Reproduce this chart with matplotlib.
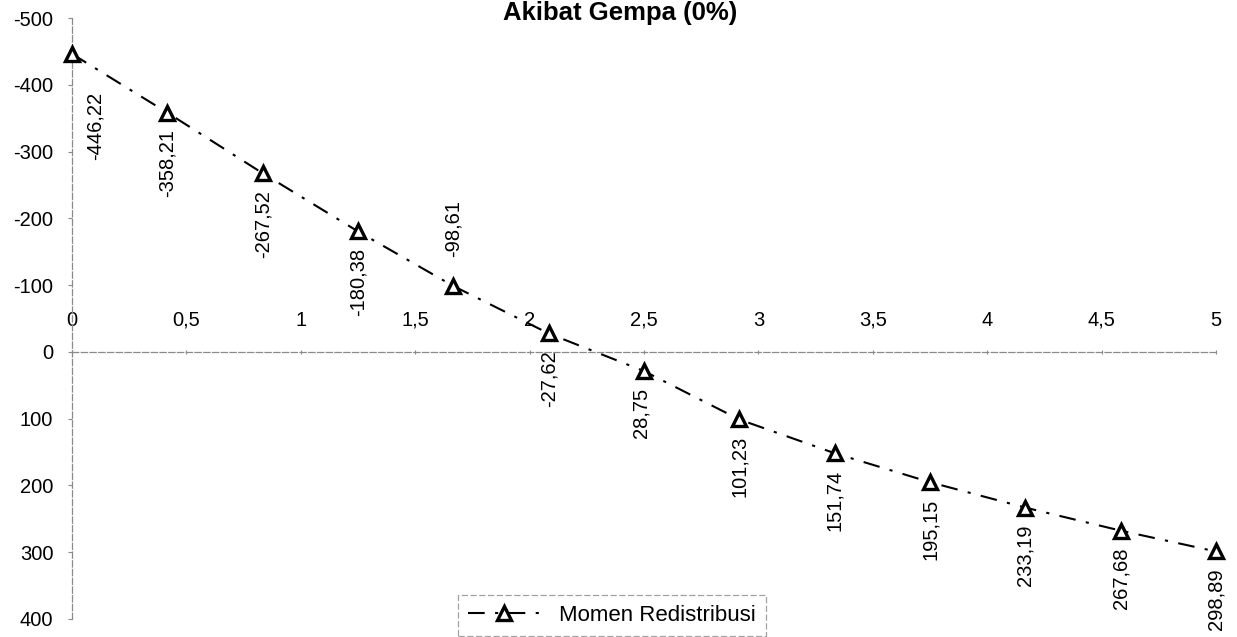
import numpy as np
import matplotlib
matplotlib.use("Agg")
import matplotlib.pyplot as plt
from matplotlib.ticker import FixedLocator, FuncFormatter

plt.rcParams["font.family"] = ["Liberation Sans", "DejaVu Sans"]

# --- data ----------------------------------------------------------------
x_pos = np.linspace(0, 5, 13)   # 13 stations equally spaced along the span
moment = [-446.22, -358.21, -267.52, -180.38, -98.61, -27.62, 28.75,
          101.23, 151.74, 195.15, 233.19, 267.68, 298.89]
series_name = "Momen Redistribusi"
title = "Akibat Gempa (0%)"
x_ticks = np.arange(0, 5.01, 0.5)
y_ticks = np.arange(-500, 401, 100)

# label placement (points), mostly "below", a few nudged by hand like in Excel
label_off = {0: (17, -27, "top"), 4: (0, 21, "bottom"), 6: (-2, -12, "top")}
default_off = (0, -12, "top")


def comma(v, _=None):
    return f"{v:g}".replace(".", ",")


fig = plt.figure(figsize=(12.37, 6.37), dpi=100)
ax = fig.add_axes([72 / 1237, 1 - 619 / 637, (1216 - 72) / 1237, (619 - 18) / 637])

ax.plot(x_pos, moment, color="black", lw=1.5, ls=(0, (8, 5, 1.5, 5)),
        marker="^", ms=10.5, mfc="white", mec="black", mew=2.4,
        label=series_name, clip_on=False, zorder=3)

for i, (xv, yv) in enumerate(zip(x_pos, moment)):
    dx, dy, va = label_off.get(i, default_off)
    ax.annotate(f"{yv:.2f}".replace(".", ","), (xv, yv), xytext=(dx, dy),
                textcoords="offset points", rotation=90, ha="center",
                va=va, fontsize=14.5)

ax.set_xlim(0, 5)
ax.set_ylim(400, -500)

# x axis drawn at y = 0, labels above it
for s in ("bottom", "right"):
    ax.spines[s].set_visible(False)
ax.spines["top"].set_position(("data", 0))
for s in ("top", "left"):
    ax.spines[s].set_color("#8a8a8a")
    ax.spines[s].set_linewidth(0.9)
    ax.spines[s].set_linestyle((0, (5, 2)))

ax.xaxis.set_ticks_position("top")
ax.xaxis.set_major_locator(FixedLocator(x_ticks))
ax.xaxis.set_major_formatter(FuncFormatter(comma))
ax.tick_params(axis="x", direction="inout", length=3, pad=14.5,
               labelsize=14.5, color="#8a8a8a")

ax.yaxis.set_major_locator(FixedLocator(y_ticks))
ax.yaxis.set_major_formatter(FuncFormatter(lambda v, _: f"{int(v)}"))
ax.tick_params(axis="y", direction="out", length=3, pad=10.5,
               labelsize=14.5, color="#8a8a8a")

fig.text(620 / 1237, 1 - 20 / 637, title, ha="center", va="baseline",
         fontsize=18.5, fontweight="bold")

leg = fig.legend(loc="upper left", bbox_to_anchor=(458 / 1237, 1 - 595 / 637),
                 bbox_transform=fig.transFigure, fontsize=16, frameon=True,
                 fancybox=False, borderaxespad=0, borderpad=0.45,
                 handlelength=3.2, handletextpad=0.9)
leg.get_frame().set_edgecolor("#8a8a8a")
leg.get_frame().set_linewidth(0.9)
leg.get_frame().set_linestyle((0, (5, 2)))

fig.savefig("out.png", dpi=100)
